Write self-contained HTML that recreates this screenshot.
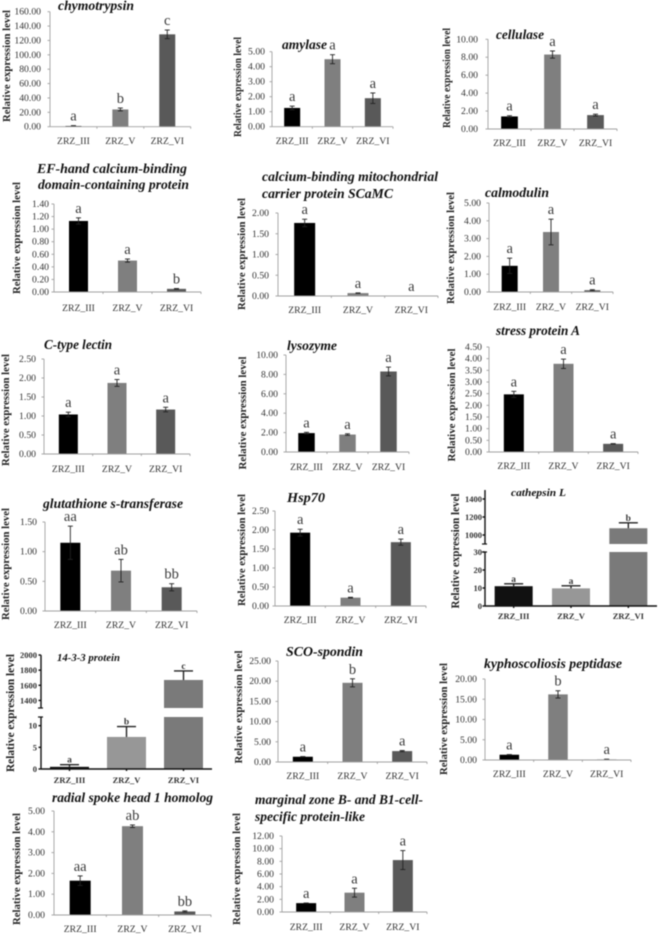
<!DOCTYPE html>
<html lang="en">
<head>
<meta charset="utf-8">
<title>Relative expression levels</title>
<style>
html,body{margin:0;padding:0;background:#fff;}
svg{display:block;filter:blur(0.45px);}
text{font-family:"Liberation Serif",serif;}
.t{font-size:13.5px;font-weight:bold;font-style:italic;fill:#111;}
.y{font-size:11px;font-weight:bold;fill:#222;text-anchor:middle;}
.yb{font-size:12px;font-weight:bold;fill:#222;text-anchor:middle;}
</style>
</head>
<body>
<svg id="figure" xmlns="http://www.w3.org/2000/svg" width="660" height="937" viewBox="0 0 660 937">
<rect width="660" height="937" fill="#fff"/>
<g id="p-chymotrypsin">
<text class="t" x="58" y="10" textLength="76" lengthAdjust="spacingAndGlyphs">chymotrypsin</text>
<text class="y" transform="translate(10,66) rotate(-90)" textLength="112" lengthAdjust="spacingAndGlyphs">Relative expression level</text>
</g>
<g id="p-amylase">
<text class="t" x="282" y="49" textLength="45" lengthAdjust="spacingAndGlyphs">amylase</text>
<text class="y" transform="translate(241,87) rotate(-90)" textLength="100" lengthAdjust="spacingAndGlyphs">Relative expression level</text>
</g>
<g id="p-cellulase">
<text class="t" x="496" y="39" textLength="48" lengthAdjust="spacingAndGlyphs">cellulase</text>
<text class="y" transform="translate(450,78) rotate(-90)" textLength="100" lengthAdjust="spacingAndGlyphs">Relative expression level</text>
</g>
<g id="p-efhand">
<text class="t" x="37" y="173" textLength="150" lengthAdjust="spacingAndGlyphs">EF-hand calcium-binding</text>
<text class="t" x="38" y="189" textLength="151" lengthAdjust="spacingAndGlyphs">domain-containing protein</text>
<text class="y" transform="translate(20,238) rotate(-90)" textLength="112" lengthAdjust="spacingAndGlyphs">Relative expression level</text>
</g>
<g id="p-scamc">
<text class="t" x="262" y="181" textLength="176" lengthAdjust="spacingAndGlyphs">calcium-binding mitochondrial</text>
<text class="t" x="262" y="198" textLength="131" lengthAdjust="spacingAndGlyphs">carrier protein SCaMC</text>
<text class="y" transform="translate(245,254) rotate(-90)" textLength="112" lengthAdjust="spacingAndGlyphs">Relative expression level</text>
</g>
<g id="p-calmodulin">
<text class="t" x="485" y="197" textLength="64" lengthAdjust="spacingAndGlyphs">calmodulin</text>
<text class="y" transform="translate(454,248) rotate(-90)" textLength="112" lengthAdjust="spacingAndGlyphs">Relative expression level</text>
</g>
<g id="p-ctype">
<text class="t" x="44" y="349" textLength="68" lengthAdjust="spacingAndGlyphs">C-type lectin</text>
<text class="y" transform="translate(9,410) rotate(-90)" textLength="112" lengthAdjust="spacingAndGlyphs">Relative expression level</text>
</g>
<g id="p-lysozyme">
<text class="t" x="287" y="350" textLength="50" lengthAdjust="spacingAndGlyphs">lysozyme</text>
<text class="y" transform="translate(246,413) rotate(-90)" textLength="113" lengthAdjust="spacingAndGlyphs">Relative expression level</text>
</g>
<g id="p-stress">
<text class="t" x="496" y="335" textLength="84" lengthAdjust="spacingAndGlyphs">stress protein A</text>
<text class="y" transform="translate(455,405) rotate(-90)" textLength="113" lengthAdjust="spacingAndGlyphs">Relative expression level</text>
</g>
<g id="p-gst">
<text class="t" x="43" y="508" textLength="140" lengthAdjust="spacingAndGlyphs">glutathione s-transferase</text>
<text class="y" transform="translate(9,564) rotate(-90)" textLength="112" lengthAdjust="spacingAndGlyphs">Relative expression level</text>
</g>
<g id="p-hsp70">
<text class="t" x="287" y="502" textLength="38" lengthAdjust="spacingAndGlyphs">Hsp70</text>
<text class="y" transform="translate(245,550) rotate(-90)" textLength="112" lengthAdjust="spacingAndGlyphs">Relative expression level</text>
</g>
<g id="p-cathepsin">
<text class="t" x="511" y="496" textLength="55" lengthAdjust="spacingAndGlyphs" style="font-size:10px">cathepsin L</text>
<text class="yb" transform="translate(459,551) rotate(-90)" textLength="115" lengthAdjust="spacingAndGlyphs">Relative expression level</text>
</g>
<g id="p-1433">
<text class="t" x="57" y="661" textLength="63" lengthAdjust="spacingAndGlyphs" style="font-size:10px">14-3-3 protein</text>
<text class="yb" transform="translate(14,713) rotate(-90)" textLength="118" lengthAdjust="spacingAndGlyphs">Relative expression level</text>
</g>
<g id="p-sco">
<text class="t" x="286" y="656" textLength="77" lengthAdjust="spacingAndGlyphs">SCO-spondin</text>
<text class="y" transform="translate(242,707) rotate(-90)" textLength="113" lengthAdjust="spacingAndGlyphs">Relative expression level</text>
</g>
<g id="p-kypho">
<text class="t" x="484" y="668" textLength="138" lengthAdjust="spacingAndGlyphs">kyphoscoliosis peptidase</text>
<text class="y" transform="translate(447,719) rotate(-90)" textLength="112" lengthAdjust="spacingAndGlyphs">Relative expression level</text>
</g>
<g id="p-radial">
<text class="t" x="52" y="802" textLength="161" lengthAdjust="spacingAndGlyphs">radial spoke head 1 homolog</text>
<text class="y" transform="translate(20,869) rotate(-90)" textLength="112" lengthAdjust="spacingAndGlyphs">Relative expression level</text>
</g>
<g id="p-marginal">
<text class="t" x="255" y="804" textLength="168" lengthAdjust="spacingAndGlyphs">marginal zone B- and B1-cell-</text>
<text class="t" x="255" y="821" textLength="110" lengthAdjust="spacingAndGlyphs">specific protein-like</text>
<text class="y" transform="translate(240,869) rotate(-90)" textLength="112" lengthAdjust="spacingAndGlyphs">Relative expression level</text>
</g>
</svg>
<script>
const categories = ['ZRZ_III', 'ZRZ_V', 'ZRZ_VI'];

const chymotrypsinValues = [1, 24, 128.5];
const chymotrypsinErrors = [0.5, 2, 6];
const chymotrypsinLetters = ['a', 'b', 'c'];
const chymotrypsinTicks = ['0.00', '20.00', '40.00', '60.00', '80.00', '100.00', '120.00', '140.00', '160.00'];

const amylaseValues = [1.25, 4.5, 1.9];
const amylaseErrors = [0.12, 0.3, 0.35];
const amylaseLetters = ['a', 'a', 'a'];
const amylaseTicks = ['0.00', '1.00', '2.00', '3.00', '4.00', '5.00'];

const cellulaseValues = [1.4, 8.3, 1.55];
const cellulaseErrors = [0.08, 0.4, 0.1];
const cellulaseLetters = ['a', 'a', 'a'];
const cellulaseTicks = ['0.00', '2.00', '4.00', '6.00', '8.00', '10.00'];

const efHandValues = [1.13, 0.5, 0.05];
const efHandErrors = [0.05, 0.025, 0.005];
const efHandLetters = ['a', 'a', 'b'];
const efHandTicks = ['0.00', '0.20', '0.40', '0.60', '0.80', '1.00', '1.20', '1.40'];

const scamcValues = [1.76, 0.07, 0];
const scamcErrors = [0.09, 0.005, 0];
const scamcLetters = ['a', 'a', 'a'];
const scamcTicks = ['0.00', '0.50', '1.00', '1.50', '2.00'];

const calmodulinValues = [1.47, 3.37, 0.1];
const calmodulinErrors = [0.43, 0.72, 0.03];
const calmodulinLetters = ['a', 'a', 'a'];
const calmodulinTicks = ['0.00', '1.00', '2.00', '3.00', '4.00', '5.00'];

const lectinValues = [1.04, 1.87, 1.17];
const lectinErrors = [0.06, 0.09, 0.06];
const lectinLetters = ['a', 'a', 'a'];
const lectinTicks = ['0.00', '0.50', '1.00', '1.50', '2.00', '2.50'];

const lysozymeValues = [1.95, 1.8, 8.3];
const lysozymeErrors = [0.08, 0.08, 0.45];
const lysozymeLetters = ['a', 'a', 'a'];
const lysozymeTicks = ['0.00', '2.00', '4.00', '6.00', '8.00', '10.00'];

const stressValues = [2.47, 3.78, 0.35];
const stressErrors = [0.13, 0.2, 0.01];
const stressLetters = ['a', 'a', 'a'];
const stressTicks = ['0.00', '0.50', '1.00', '1.50', '2.00', '2.50', '3.00', '3.50', '4.00', '4.50'];

const gstValues = [1.15, 0.68, 0.4];
const gstErrors = [0.28, 0.19, 0.06];
const gstLetters = ['aa', 'ab', 'bb'];
const gstTicks = ['0.00', '0.50', '1.00', '1.50'];

const hsp70Values = [1.93, 0.22, 1.68];
const hsp70Errors = [0.09, 0.01, 0.08];
const hsp70Letters = ['a', 'a', 'a'];
const hsp70Ticks = ['0.00', '0.50', '1.00', '1.50', '2.00', '2.50'];

const cathepsinValues = [11, 9.8, 1075];
const cathepsinErrors = [1.3, 1.4, 60];
const cathepsinLetters = ['a', 'a', 'b'];
const cathepsinLowerTicks = ['0', '10', '20', '30'];
const cathepsinUpperTicks = ['1000', '1200', '1400'];

const protein1433Values = [0.5, 7.4, 1670];
const protein1433Errors = [0.5, 2.4, 120];
const protein1433Letters = ['a', 'b', 'c'];
const protein1433LowerTicks = ['0', '5', '10'];
const protein1433UpperTicks = ['1400', '1600', '1800', '2000'];

const scoValues = [1.3, 19.6, 2.7];
const scoErrors = [0.05, 1, 0.15];
const scoLetters = ['a', 'b', 'a'];
const scoTicks = ['0.00', '5.00', '10.00', '15.00', '20.00', '25.00'];

const kyphoValues = [1.3, 16.2, 0.15];
const kyphoErrors = [0.05, 0.9, 0.05];
const kyphoLetters = ['a', 'b', 'a'];
const kyphoTicks = ['0.00', '5.00', '10.00', '15.00', '20.00'];

const radialValues = [1.65, 4.27, 0.17];
const radialErrors = [0.23, 0.06, 0.03];
const radialLetters = ['aa', 'ab', 'bb'];
const radialTicks = ['0.00', '1.00', '2.00', '3.00', '4.00', '5.00'];

const marginalValues = [1.4, 3.05, 8.2];
const marginalErrors = [0.02, 0.7, 1.5];
const marginalLetters = ['a', 'a', 'a'];
const marginalTicks = ['0.00', '2.00', '4.00', '6.00', '8.00', '10.00', '12.00'];

const NS = 'http://www.w3.org/2000/svg';
const COLORS = ['#000000', '#7f7f7f', '#595959'];
const BROKEN_COLORS = ['#111111', '#979797', '#7a7a7a'];

function single(min, max, y0, top, ticks) {
  return [{ d: [min, max], r: [y0, top], ticks: ticks }];
}

const panels = [
  { id: 'p-chymotrypsin', x0: 50, x1: 190.7, bw: 16, lx: 41, xl: 144, v: chymotrypsinValues, e: chymotrypsinErrors, l: chymotrypsinLetters, seg: single(0, 160, 126.7, 11.7, chymotrypsinTicks) },
  { id: 'p-amylase', x0: 272, x1: 393, bw: 16, lx: 265, xl: 144, v: amylaseValues, e: amylaseErrors, l: amylaseLetters, seg: single(0, 5, 126.7, 51.7, amylaseTicks) },
  { id: 'p-cellulase', x0: 488, x1: 617, bw: 16.7, lx: 478, xl: 146, v: cellulaseValues, e: cellulaseErrors, l: cellulaseLetters, seg: single(0, 10, 129, 39.3, cellulaseTicks) },
  { id: 'p-efhand', x0: 54, x1: 201, bw: 19, lx: 49, xl: 311, v: efHandValues, e: efHandErrors, l: efHandLetters, seg: single(0, 1.4, 292, 204, efHandTicks) },
  { id: 'p-scamc', x0: 278, x1: 438, bw: 21, lx: 269, xl: 313, v: scamcValues, e: scamcErrors, l: scamcLetters, seg: single(0, 2, 296, 213, scamcTicks) },
  { id: 'p-calmodulin', x0: 489, x1: 613, bw: 16, lx: 481, xl: 310, v: calmodulinValues, e: calmodulinErrors, l: calmodulinLetters, seg: single(0, 5, 292, 203, calmodulinTicks) },
  { id: 'p-ctype', x0: 44, x1: 190, bw: 19, lx: 36, xl: 472, v: lectinValues, e: lectinErrors, l: lectinLetters, seg: single(0, 2.5, 454, 359, lectinTicks) },
  { id: 'p-lysozyme', x0: 286, x1: 409, bw: 16.5, lx: 278, xl: 470, v: lysozymeValues, e: lysozymeErrors, l: lysozymeLetters, seg: single(0, 10, 452, 355, lysozymeTicks) },
  { id: 'p-stress', x0: 489, x1: 638, bw: 20, lx: 482, xl: 469, v: stressValues, e: stressErrors, l: stressLetters, seg: single(0, 4.5, 452, 347, stressTicks) },
  { id: 'p-gst', x0: 45, x1: 197, bw: 20, lx: 37, xl: 628, v: gstValues, e: gstErrors, l: gstLetters, seg: single(0, 1.5, 611, 522, gstTicks) },
  { id: 'p-hsp70', x0: 275, x1: 426, bw: 20, lx: 269, xl: 623, v: hsp70Values, e: hsp70Errors, l: hsp70Letters, seg: single(0, 2.5, 606, 511, hsp70Ticks) },
  { id: 'p-cathepsin', broken: true, x0: 485, x1: 657, bw: 38, lx: 482, xl: 619, v: cathepsinValues, e: cathepsinErrors, l: cathepsinLetters,
    seg: [{ d: [0, 30], r: [606, 552], ticks: cathepsinLowerTicks }, { d: [900, 1500], r: [544, 490], ticks: cathepsinUpperTicks }] },
  { id: 'p-1433', broken: true, x0: 41, x1: 212, bw: 39, lx: 37, xl: 783, v: protein1433Values, e: protein1433Errors, l: protein1433Letters,
    seg: [{ d: [0, 12], r: [769, 717], ticks: protein1433LowerTicks }, { d: [1300, 2000], r: [708, 655], ticks: protein1433UpperTicks }] },
  { id: 'p-sco', x0: 278, x1: 427, bw: 20, lx: 271, xl: 779, v: scoValues, e: scoErrors, l: scoLetters, seg: single(0, 25, 762, 661, scoTicks) },
  { id: 'p-kypho', x0: 485, x1: 631, bw: 19.5, lx: 477, xl: 777, v: kyphoValues, e: kyphoErrors, l: kyphoLetters, seg: single(0, 20, 760, 679, kyphoTicks) },
  { id: 'p-radial', x0: 54, x1: 211, bw: 21, lx: 45, xl: 932, v: radialValues, e: radialErrors, l: radialLetters, seg: single(0, 5, 915, 811, radialTicks) },
  { id: 'p-marginal', x0: 282, x1: 427, bw: 20, lx: 274, xl: 930, v: marginalValues, e: marginalErrors, l: marginalLetters, seg: single(0, 12, 912, 836, marginalTicks) }
];

function mk(parent, tag, attrs, txt) {
  const n = document.createElementNS(NS, tag);
  for (const k in attrs) n.setAttribute(k, attrs[k]);
  if (txt !== undefined) n.textContent = txt;
  parent.appendChild(n);
  return n;
}

function drawPanel(p) {
  const g = document.getElementById(p.id);
  const band = (p.x1 - p.x0) / categories.length;
  const xScale = i => p.x0 + band * (i + 0.5);
  const segScale = (s, v) => s.r[0] + (v - s.d[0]) / (s.d[1] - s.d[0]) * (s.r[1] - s.r[0]);
  const yScale = v => {
    const s = p.seg.length > 1 && v > p.seg[0].d[1] ? p.seg[1] : p.seg[0];
    return segScale(s, v);
  };
  const axisColor = p.broken ? '#111' : '#a0a0a0';
  const axisW = p.broken ? 1.4 : 0.9;
  const capW = p.broken ? 19 : 5;
  const errW = p.broken ? 1.4 : 0.9;
  const y0 = p.seg[0].r[0];

  p.v.forEach((val, i) => {
    const cx = xScale(i);
    const fill = (p.broken ? BROKEN_COLORS : COLORS)[i];
    p.seg.forEach(s => {
      if (val <= s.d[0]) return;
      const top = segScale(s, Math.min(val, s.d[1]));
      const bar = mk(g, 'rect', { x: cx - p.bw / 2, y: top, width: p.bw, height: Math.max(0, s.r[0] - top), fill: fill });
      
      
    });
    const up = yScale(val + p.e[i]);
    const down = p.broken ? yScale(val) : yScale(val - p.e[i]);
    if (p.e[i] > 0) {
      const stem = mk(g, 'line', { x1: cx, x2: cx, y1: up, y2: down, stroke: '#222', 'stroke-width': errW });
      
      
      const cap = mk(g, 'line', { x1: cx - capW / 2, x2: cx + capW / 2, y1: up, y2: up, stroke: '#222', 'stroke-width': errW });
      
      
      if (!p.broken) {
        const low = mk(g, 'line', { x1: cx - capW / 2, x2: cx + capW / 2, y1: down, y2: down, stroke: '#222', 'stroke-width': errW });
        
        
      }
    }
    const letter = mk(g, 'text', { x: cx, y: up - (p.broken ? 2 : 5), 'text-anchor': 'middle', 'font-size': p.broken ? 9.5 : 14.5, fill: '#3a3a3a', 'font-weight': p.broken ? 'bold' : 'normal' }, p.l[i]);
    
    
    const cat = mk(g, 'text', { x: cx, y: p.xl, 'text-anchor': 'middle', 'font-size': p.broken ? 8.5 : 9.7, fill: '#333', 'font-weight': p.broken ? 'bold' : 'normal' }, categories[i]);
    
    
  });

  p.seg.forEach(s => {
    const axis = mk(g, 'line', { x1: p.x0, x2: p.x0, y1: s.r[0], y2: s.r[1], stroke: axisColor, 'stroke-width': axisW });
    
    
    s.ticks.forEach(t => {
      const y = segScale(s, parseFloat(t));
      const tick = mk(g, 'line', { x1: p.x0 - 2.5, x2: p.x0, y1: y, y2: y, stroke: axisColor, 'stroke-width': axisW });
      
      
      const lab = mk(g, 'text', { x: p.lx, y: y + 3, 'text-anchor': 'end', 'font-size': p.broken ? 8.5 : 9.7, fill: '#333', 'font-weight': p.broken ? 'bold' : 'normal' }, t);
      
      
    });
    if (p.broken) {
      const brk = mk(g, 'line', { x1: p.x0 - 3, x2: p.x0 + 2, y1: s.r[s === p.seg[0] ? 1 : 0], y2: s.r[s === p.seg[0] ? 1 : 0], stroke: '#111', 'stroke-width': 1.2 });
      
      
    }
  });

  const xAxis = mk(g, 'line', { x1: p.x0, x2: p.x1, y1: y0, y2: y0, stroke: axisColor, 'stroke-width': axisW });
  
  
  categories.forEach((c, i) => {
    const xt = p.broken ? xScale(i) : p.x0 + band * (i + 1);
    const tick = mk(g, 'line', { x1: xt, x2: xt, y1: y0, y2: y0 + 2, stroke: axisColor, 'stroke-width': axisW });
    
    
  });
}

panels.forEach(drawPanel);
</script>
</body>
</html>
